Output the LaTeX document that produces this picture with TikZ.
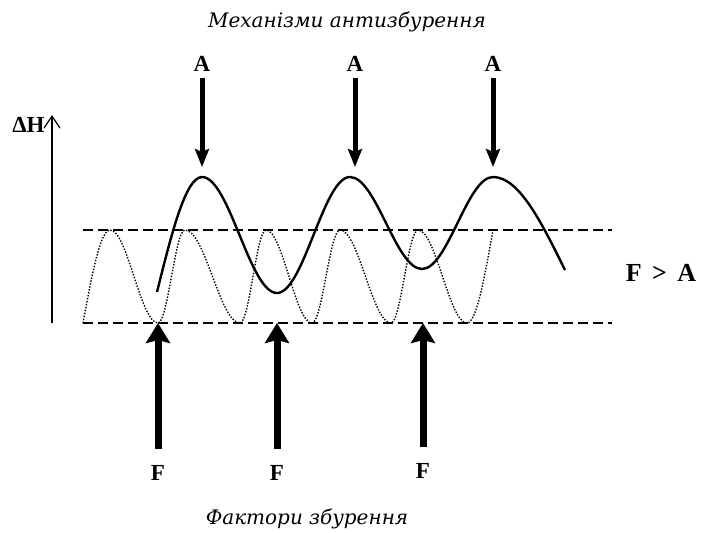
\documentclass[tikz,border=0pt]{standalone}
\usepackage{fontspec}
\setmainfont{Liberation Serif}
\newfontfamily\capfont{DejaVu Serif}
\usetikzlibrary{arrows.meta}

\begin{document}
\begin{tikzpicture}[
	x=0.5pt, y=-0.5pt,
	letter/.style={ font=\bfseries\fontsize{11.5}{13}\selectfont, inner sep=3pt },
	caption/.style={ font=\capfont\itshape\fontsize{10}{12}\selectfont, inner sep=0pt },
	level/.style={ line width=1pt, dash pattern=on 5pt off 2.5pt },
	wave/.style={ line width=0.7pt, dash pattern=on 0.7pt off 0.8pt },
	curve/.style={ line width=1.2pt },
	aarrow/.style={ line width=2.5pt, -{Stealth[width=7pt,length=9pt,inset=1.5pt]} },
	farrow/.style={ line width=3.5pt, -{Stealth[width=12pt,length=10pt,inset=1.5pt]}, shorten <=5pt },
	axis/.style={ line width=0.6pt, -{Straight Barb[width=8pt,length=6pt]} }
]
\useasboundingbox (0,0) rectangle (703,532);

\node at (347,22) (mechs) [caption] {Механізми антизбурення};
\node at (307,519) (factors) [caption] {Фактори збурення};

% levels
\coordinate (topleft) at (83,230);
\coordinate (topright) at (612,230);
\coordinate (botleft) at (83,323);
\coordinate (botright) at (612,323);
\draw[level] (topleft) -- (topright);
\draw[level] (botleft) -- (botright);

\coordinate (axisfoot) at (52,323);
\coordinate (axistop) at (52,115);
\node at (45,125) (dh) [letter, anchor=east, inner sep=0pt] {ΔH};
\draw[axis] (axisfoot) -- (axistop);

\node at (202,64) (aone) [letter] {A};
\node at (355,64) (atwo) [letter] {A};
\node at (493,64) (athree) [letter] {A};
\coordinate (tipone) at (202,167);
\coordinate (tiptwo) at (355,167);
\coordinate (tipthree) at (493,167);
\foreach \a/\t in {aone/tipone,atwo/tiptwo,athree/tipthree} \draw[aarrow] (\a) -- (\t);

\node at (158,473) (fone) [letter] {F};
\node at (277,473) (ftwo) [letter] {F};
\node at (423,471) (fthree) [letter] {F};
\coordinate (footone) at (158,323);
\coordinate (foottwo) at (277,323);
\coordinate (footthree) at (423,323);
\foreach \f/\t in {fone/footone,ftwo/foottwo,fthree/footthree} \draw[farrow] (\f) -- (\t);

\node at (661,273) (ratio) [letter, font=\bfseries\fontsize{13}{15}\selectfont] {F\hspace{0.4em}>\hspace{0.4em}A};

\draw[curve] (157,292) sin (202,177) cos (239.5,235) sin (277,293) cos (313.5,235) sin (350,177)
	cos (386,223) sin (422,269) cos (457.5,223) sin (493,177) cos (565,270);

\draw[wave] (83,323) sin (110,230)
	\foreach \xa/\ya/\xb/\yb in {110/230/158/323,158/323/185/230,185/230/240/323,240/323/266/230,266/230/312/323,
		312/323/340/230,340/230/391/323,391/323/418/230,418/230/467/323}
	{ cos ({(\xa+\xb)/2},{(\ya+\yb)/2}) sin (\xb,\yb) }
	cos (493,230);

\end{tikzpicture}
\end{document}
